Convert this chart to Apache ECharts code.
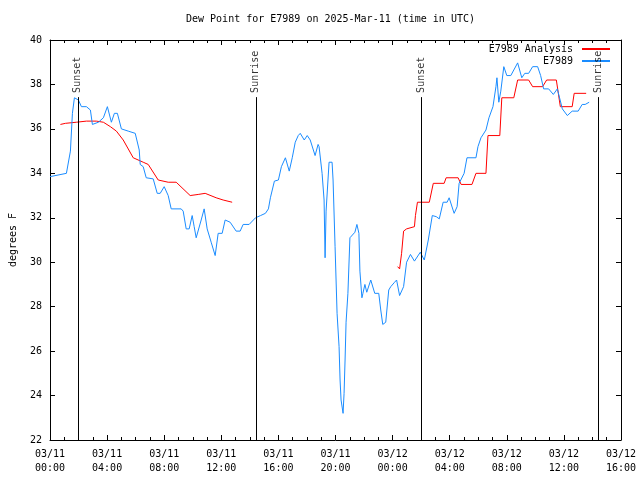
<!DOCTYPE html>
<html>
<head>
<meta charset="utf-8">
<script src="https://cdn.jsdelivr.net/npm/echarts@6/dist/echarts.min.js"></script>
<style>html,body{margin:0;padding:0;background:#fff}#c{width:640px;height:480px}</style>
</head>
<body>
<div id="c"></div>
<script>
// hours since 2025-03-11 00:00 UTC
const tickLabels = ['03/11\n00:00','03/11\n04:00','03/11\n08:00','03/11\n12:00','03/11\n16:00','03/11\n20:00','03/12\n00:00','03/12\n04:00','03/12\n08:00','03/12\n12:00','03/12\n16:00'];

const obsHours = [0.00,1.15,1.29,1.43,1.57,1.71,1.78,1.99,2.20,2.55,2.83,2.97,3.39,3.74,4.02,4.30,4.51,4.72,5.00,5.48,5.97,6.25,6.32,6.53,6.74,7.23,7.51,7.72,8.00,8.28,8.49,9.19,
  9.33,9.54,9.75,9.96,10.10,10.24,10.59,10.80,11.01,11.29,11.57,11.78,12.06,12.27,12.62,13.04,13.32,13.53,13.95,14.40,14.75,15.09,15.30,15.44,15.72,16.00,16.21,16.49,16.76,16.97,17.18,17.39,17.53,17.81,18.02,18.23,18.57,18.78,18.85,19.06,19.20,19.27,19.34,19.55,19.76,19.83,19.97,20.04,20.11,20.25,20.32,20.39,20.53,20.60,20.67,20.74,20.87,21.01,21.36,21.50,21.64,21.71,21.85,21.92,22.06,22.19,22.33,22.47,22.75,23.03,23.17,23.31,23.52,23.73,23.87,24.14,24.28,24.49,24.77,24.98,25.25,25.53,25.94,26.22,26.50,26.78,27.06,27.27,27.54,27.82,27.96,28.31,28.52,28.66,29.01,29.21,29.84,29.98,30.19,30.54,30.75,31.03,31.24,31.31,31.44,31.58,31.79,32.00,32.28,32.76,33.05,33.26,33.53,33.81,34.16,34.37,34.58,34.93,35.26,35.54,35.89,36.24,36.58,37.00,37.28,37.49,37.77];
const obsValues = [33.85,34.0,34.05,35.0,36.7,37.4,37.4,37.3,37.0,37.0,36.85,36.2,36.3,36.5,37.0,36.3,36.7,36.7,36.0,35.9,35.8,35.05,34.4,34.3,33.8,33.75,33.1,33.1,33.4,33.0,32.4,32.4,
  32.3,31.5,31.5,32.1,31.6,31.1,31.9,32.4,31.5,30.9,30.3,31.3,31.3,31.9,31.8,31.4,31.4,31.7,31.7,32.0,32.1,32.2,32.4,32.9,33.65,33.7,34.3,34.7,34.1,34.7,35.4,35.7,35.8,35.5,35.7,35.5,34.8,35.3,35.2,34.0,32.8,30.2,32.3,34.5,34.5,33.7,30.7,29.2,27.7,26.2,24.7,23.8,23.2,24.1,25.6,27.3,28.6,31.1,31.35,31.7,31.3,29.6,28.4,28.6,29.0,28.65,28.6,29.2,28.6,28.6,27.85,27.2,27.3,28.75,28.9,29.1,29.2,28.5,28.9,30.0,30.35,30.05,30.45,30.1,31.0,32.1,32.05,31.95,32.7,32.7,32.9,32.2,32.5,33.55,34.0,34.7,34.7,35.2,35.6,35.95,36.5,37.0,37.9,38.3,37.2,37.7,38.8,38.4,38.4,38.97,38.3,38.5,38.5,38.8,38.8,38.4,37.8,37.8,37.55,37.8,36.9,36.6,36.8,36.8,37.1,37.1,37.2];

const anaHours = [0.73,1.08,1.85,2.55,3.25,3.74,4.23,4.65,5.13,5.83,6.53,6.88,7.58,8.28,8.84,9.82,10.38,10.87,11.64,12.13,12.76,
  18.0,
  24.35,24.49,24.63,24.77,24.98,25.53,25.60,25.74,26.57,26.85,27.61,27.75,28.59,28.80,29.56,29.84,30.54,30.68,31.51,31.65,32.49,32.76,33.53,33.81,34.51,34.79,35.47,35.75,36.58,36.72,37.56];
const anaValues = [36.2,36.25,36.3,36.35,36.35,36.3,36.1,35.9,35.5,34.7,34.5,34.4,33.7,33.6,33.6,33.0,33.05,33.1,32.9,32.8,32.7,
  null,
  29.8,29.7,30.4,31.4,31.5,31.6,32.1,32.7,32.7,33.55,33.55,33.8,33.8,33.5,33.5,34.0,34.0,35.7,35.7,37.4,37.4,38.2,38.2,37.9,37.9,38.2,38.2,37.0,37.0,37.6,37.6];

const eventHours = [1.95, 14.42, 26.04, 38.42];
const eventLabels = ['Sunset','Sunrise','Sunset','Sunrise'];
const eventLineTop = 37.43;
const eventLabelBase = 37.62;

const FONT = 'DejaVu Sans Mono';
const chart = echarts.init(document.getElementById('c'), null, {renderer:'canvas'});

const axisCommon = {
  type:'value', min:0, max:40, interval:4
};
const xLabel = {
  fontFamily:FONT, fontSize:10, color:'#000', lineHeight:14, margin:7,
  formatter: v => tickLabels[Math.round(v/4)]
};

chart.setOption({
  animation:false,
  backgroundColor:'#fff',
  title:{
    text:'Dew Point for E7989 on 2025-Mar-11 (time in UTC)',
    left:186, top:14, padding:0,
    textStyle:{fontFamily:FONT, fontSize:10, fontWeight:'normal', color:'#000'}
  },
  legend:{
    orient:'vertical', right:30, top:43, align:'right', padding:0,
    itemWidth:28, itemHeight:2, itemGap:0, icon:'rect',
    textStyle:{fontFamily:FONT, fontSize:10, color:'#000', lineHeight:12, padding:[0,4,0,0]},
    data:['E7989 Analysis','E7989']
  },
  grid:{left:46, right:19, top:40, bottom:40, containLabel:false},
  xAxis:[
    Object.assign({}, axisCommon, {
      position:'bottom',
      axisLine:{show:true, lineStyle:{color:'#000', width:1}},
      axisTick:{show:true, inside:true, length:5, lineStyle:{color:'#000'}},
      minorTick:{show:true, splitNumber:4, length:3, lineStyle:{color:'#000'}},
      splitLine:{show:false},
      axisLabel:xLabel
    }),
    Object.assign({}, axisCommon, {
      position:'top',
      axisLine:{show:true, onZero:false, lineStyle:{color:'#000', width:1}},
      axisTick:{show:true, inside:true, length:5, lineStyle:{color:'#000'}},
      minorTick:{show:true, splitNumber:4, length:3, lineStyle:{color:'#000'}},
      splitLine:{show:false},
      axisLabel:{show:false}
    })
  ],
  yAxis:[
    {
      type:'value', min:22, max:40, interval:2, position:'left',
      name:'degrees F', nameLocation:'middle', nameGap:32, nameRotate:90,
      nameTextStyle:{fontFamily:FONT, fontSize:10, color:'#000'},
      axisLine:{show:true, onZero:false, lineStyle:{color:'#000', width:1}},
      axisTick:{show:true, inside:true, length:5, lineStyle:{color:'#000'}},
      splitLine:{show:false},
      axisLabel:{fontFamily:FONT, fontSize:10, color:'#000', margin:8}
    },
    {
      type:'value', min:22, max:40, interval:2, position:'right',
      axisLine:{show:true, onZero:false, lineStyle:{color:'#000', width:1}},
      axisTick:{show:true, inside:true, length:5, lineStyle:{color:'#000'}},
      splitLine:{show:false},
      axisLabel:{show:false}
    }
  ],
  series:[
    {
      name:'E7989 Analysis', type:'line', xAxisIndex:0, yAxisIndex:0,
      showSymbol:false, symbol:'none', connectNulls:false,
      lineStyle:{color:'#ff0000', width:1}, itemStyle:{color:'#ff0000'},
      data: anaHours.map((h,i)=>[h, anaValues[i]===null ? '-' : anaValues[i]]),
      z:2
    },
    {
      name:'E7989', type:'line', xAxisIndex:0, yAxisIndex:0,
      showSymbol:false, symbol:'none',
      lineStyle:{color:'#1a8cff', width:1}, itemStyle:{color:'#1a8cff'},
      data: obsHours.map((h,i)=>[h, obsValues[i]]),
      z:3,
      markLine:{
        silent:true, symbol:['none','none'], animation:false,
        lineStyle:{color:'#000', width:1, type:'solid'},
        label:{show:false},
        data: eventHours.map(h=>[{coord:[h,22]},{coord:[h,eventLineTop]}])
      }
    },
    {
      name:'events', type:'scatter', xAxisIndex:0, yAxisIndex:0,
      symbolSize:0, silent:true,
      data: eventHours.map((h,i)=>({value:[h,eventLabelBase], name:eventLabels[i]})),
      label:{
        show:true, position:'inside', rotate:90, align:'left', verticalAlign:'middle',
        formatter: p => p.name,
        fontFamily:FONT, fontSize:10, color:'#000'
      },
      z:4
    }
  ]
});
</script>
</body>
</html>
